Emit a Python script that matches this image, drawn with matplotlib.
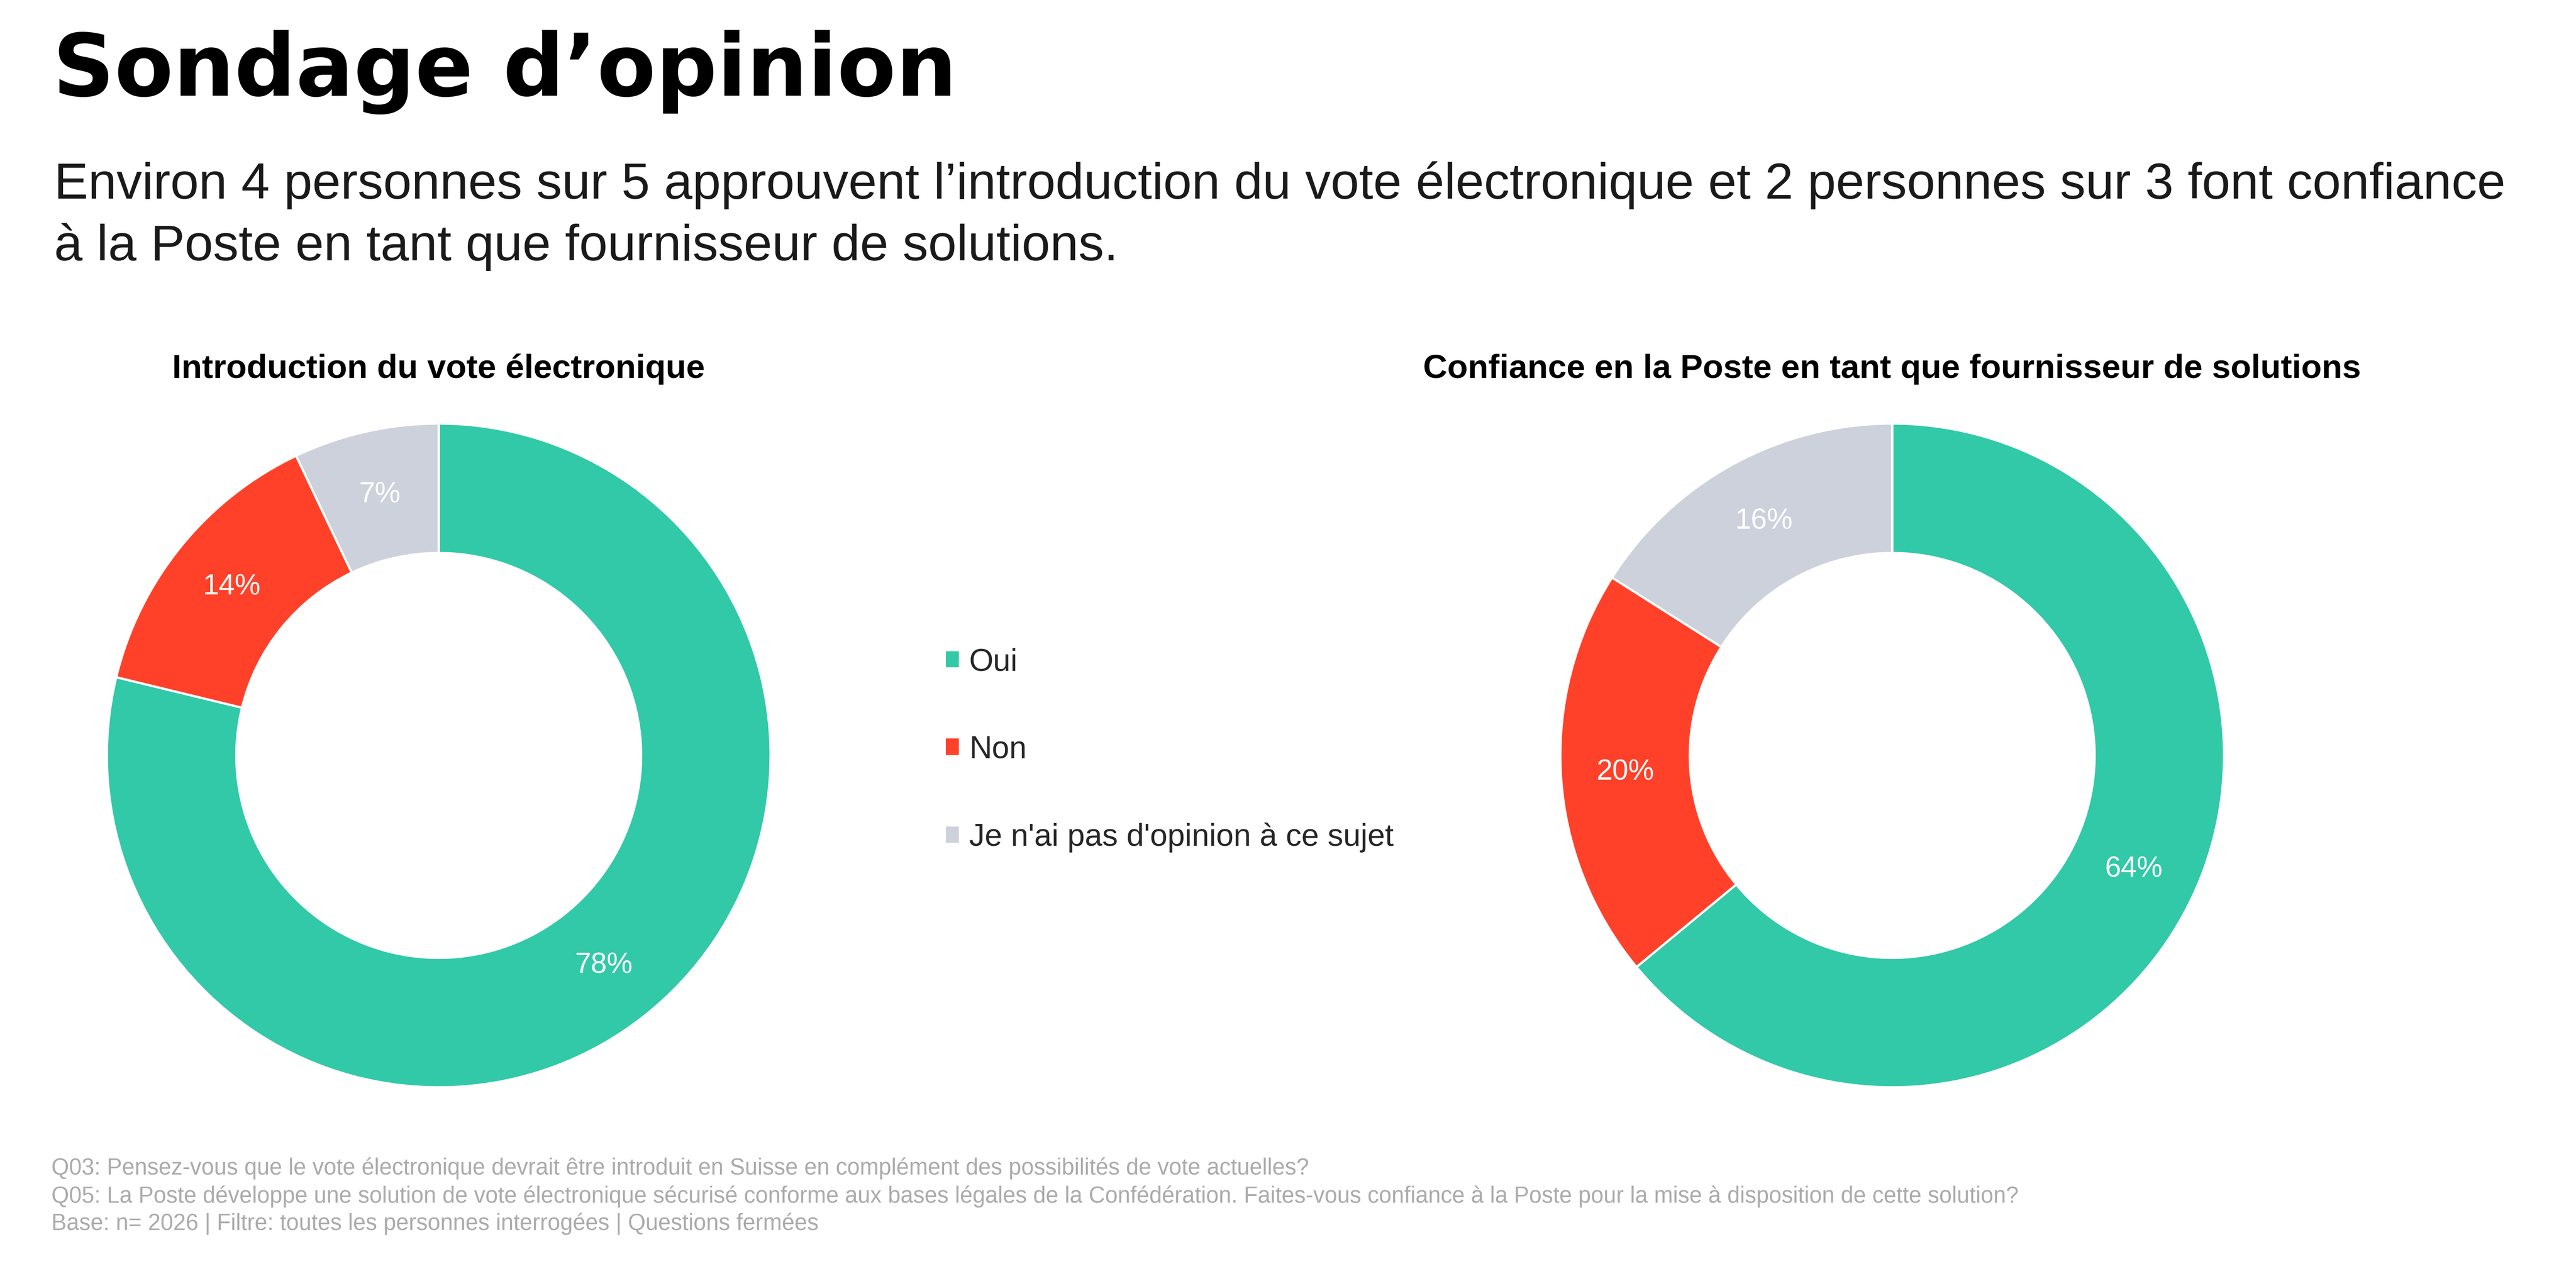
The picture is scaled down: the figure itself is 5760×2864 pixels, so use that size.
import matplotlib
matplotlib.use("Agg")
import matplotlib.pyplot as plt
from matplotlib.patches import Patch

# canvas size in pixels (300 dpi)
W, H = 5760, 2864
DPI = 300

# data
categories = ["Oui", "Non", "Je n'ai pas d'opinion à ce sujet"]
vote_values = [78, 14, 7]
poste_values = [64, 20, 16]
colors = ["#31C9A7", "#FF412A", "#CDD1DC"]

title = "Sondage d’opinion"
subtitle_lines = [
    "Environ 4 personnes sur 5 approuvent l’introduction du vote électronique et 2 personnes sur 3 font confiance",
    "à la Poste en tant que fournisseur de solutions.",
]
chart_titles = [
    "Introduction du vote électronique",
    "Confiance en la Poste en tant que fournisseur de solutions",
]
footnotes = [
    "Q03: Pensez-vous que le vote électronique devrait être introduit en Suisse en complément des possibilités de vote actuelles?",
    "Q05: La Poste développe une solution de vote électronique sécurisé conforme aux bases légales de la Confédération. "
    "Faites-vous confiance à la Poste pour la mise à disposition de cette solution?",
    "Base: n= 2026 | Filtre: toutes les personnes interrogées | Questions fermées",
]


def fx(px):
    return px / W


def fy(py):
    return 1 - py / H


plt.rcParams["font.family"] = ["Liberation Sans", "DejaVu Sans"]

fig = plt.figure(figsize=(W / DPI, H / DPI), dpi=DPI)
fig.patch.set_facecolor("white")

# header
fig.text(fx(118), fy(214), title, fontsize=46, fontweight="bold",
         family="DejaVu Sans", color="black", va="baseline")
for line, base in zip(subtitle_lines, [444, 582]):
    fig.text(fx(121), fy(base), line, fontsize=27.4, color="#1a1a1a", va="baseline")


def donut(cx, cy, r, values, label):
    ax = fig.add_axes([fx(cx - r), fy(cy + r), 2 * r / W, 2 * r / H])
    wedges, _, autotexts = ax.pie(
        values, colors=colors, startangle=90, counterclock=False, radius=1,
        wedgeprops=dict(width=0.39, edgecolor="white", linewidth=1.2),
        autopct="%.0f", pctdistance=0.805,
        textprops=dict(color="white", fontsize=15.5))
    for t, v in zip(autotexts, values):
        t.set_text(f"{v}%")
    ax.set_xlim(-1, 1)
    ax.set_ylim(-1, 1)
    ax.set_aspect("equal")
    ax.axis("off")
    fig.text(fx(cx), fy(845), label, fontsize=18, fontweight="bold",
             ha="center", va="baseline", color="black")
    return wedges


donut(981, 1689, 742, vote_values, chart_titles[0])
donut(4231, 1689, 742, poste_values, chart_titles[1])

# legend in the middle
handles = [Patch(facecolor=c, edgecolor="none") for c in colors]
fig.legend(handles, categories, loc="center left",
           bbox_to_anchor=(fx(2115), fy(1677)), frameon=False,
           fontsize=16.8, labelcolor="#262626",
           handlelength=0.42, handleheight=0.42, handletextpad=0.32,
           labelspacing=1.85, borderpad=0, borderaxespad=0)

# footnotes
for line, base in zip(footnotes, [2626, 2689, 2750]):
    fig.text(fx(115), fy(base), line, fontsize=12.2, color="#ABABAB", va="baseline")

fig.savefig("out.png", dpi=DPI, facecolor="white")
